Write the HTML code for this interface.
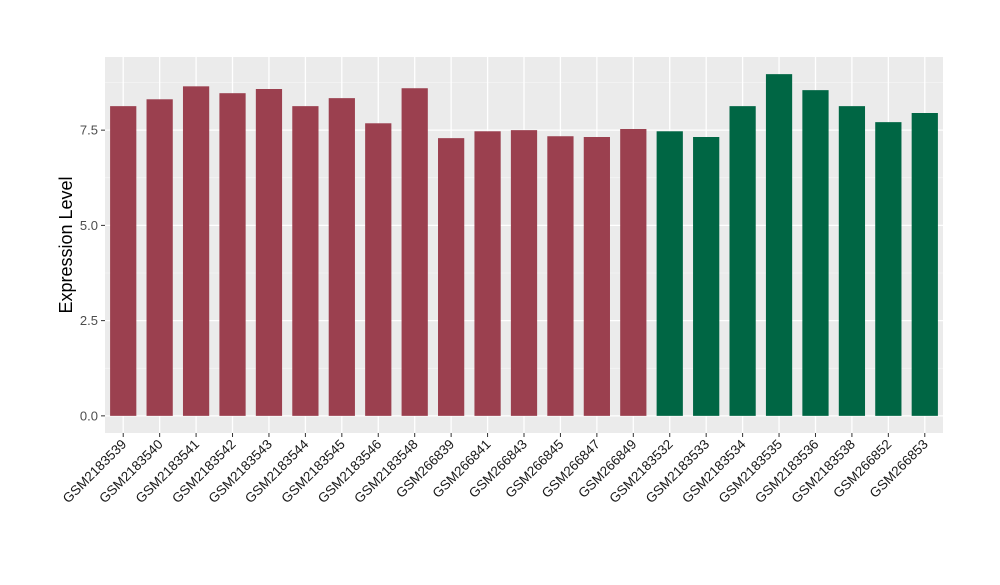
<!DOCTYPE html>
<html><head><meta charset="utf-8"><style>
body{margin:0;background:#fff;}
svg text{font-family:"Liberation Sans",sans-serif;}
</style></head><body>
<svg id="chart" width="1000" height="580"></svg>
<script>
const categories=["GSM2183539","GSM2183540","GSM2183541","GSM2183542","GSM2183543","GSM2183544","GSM2183545","GSM2183546","GSM2183548","GSM266839","GSM266841","GSM266843","GSM266845","GSM266847","GSM266849","GSM2183532","GSM2183533","GSM2183534","GSM2183535","GSM2183536","GSM2183538","GSM266852","GSM266853"];
const values=[8.13,8.31,8.65,8.47,8.58,8.13,8.34,7.68,8.60,7.29,7.47,7.50,7.34,7.32,7.53,7.47,7.32,8.13,8.97,8.55,8.13,7.71,7.95];
const groups=[0,0,0,0,0,0,0,0,0,0,0,0,0,0,0,1,1,1,1,1,1,1,1];
const yTicks=[0,2.5,5,7.5];
const yTickLabels=["0.0","2.5","5.0","7.5"];
const colors=["#9b404f","#006644"];
const NS="http://www.w3.org/2000/svg";
const svg=document.getElementById('chart');
const L=105,R=943,T=57,B=433;
const yMin=-0.45,yMax=9.42;
function y(v){return B-(v-yMin)/(yMax-yMin)*(B-T);}
const step=(R-L)/categories.length;
function x(i){return L+step*(i+0.5);}
function mk(t,a,p){const e=document.createElementNS(NS,t);for(const k in a)e.setAttribute(k,a[k]);(p||svg).appendChild(e);return e;}
const panel=mk('rect',{x:L,y:T,width:R-L,height:B-T,fill:'#ebebeb'});


for(let i=0;i<yTicks.length;i++){
  const v=yTicks[i]+1.25;
  if(y(v)>T){const m=mk('line',{x1:L,x2:R,y1:y(v),y2:y(v),stroke:'#f5f5f5','stroke-width':0.7});
  
  }
}
yTicks.forEach((v,i)=>{
  const g=mk('line',{x1:L,x2:R,y1:y(v),y2:y(v),stroke:'#fff','stroke-width':1.3});
  
  
  const tk=mk('line',{x1:L-4,x2:L,y1:y(v),y2:y(v),stroke:'#333','stroke-width':1});
  
  
  const t=mk('text',{x:L-7,y:y(v)+4.5,'text-anchor':'end','font-size':13,fill:'#4d4d4d'});
  t.textContent=yTickLabels[i];
  
  
});
categories.forEach((c,i)=>{
  const g=mk('line',{x1:x(i),x2:x(i),y1:T,y2:B,stroke:'#fff','stroke-width':1.3});
  
  
});
const bw=step*0.72;
categories.forEach((c,i)=>{
  const b=mk('rect',{x:x(i)-bw/2,y:y(values[i]),width:bw,height:y(0)-y(values[i]),fill:colors[groups[i]]});
  
  
  const tk=mk('line',{x1:x(i),x2:x(i),y1:B,y2:B+4,stroke:'#333','stroke-width':1});
  
  
  const t=mk('text',{x:x(i)+4,y:B+12,'text-anchor':'end','font-size':13.5,fill:'#1a1a1a',transform:`rotate(-45 ${x(i)+4} ${B+12})`});
  t.textContent=c;
  
  
});
const yl=mk('text',{x:72,y:(T+B)/2,'text-anchor':'middle','font-size':18,fill:'#000',transform:`rotate(-90 72 ${(T+B)/2})`});
yl.textContent="Expression Level";


</script>
</body></html>
